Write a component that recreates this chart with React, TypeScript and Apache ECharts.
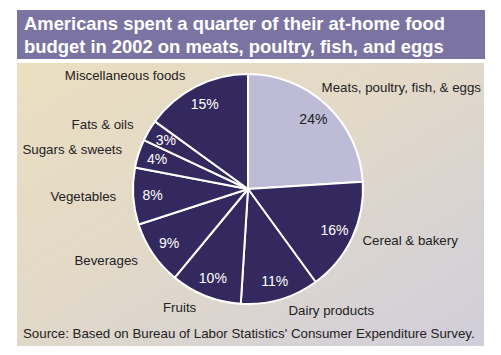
import React, { useEffect, useRef } from "react";
import * as echarts from "echarts";

const categories = [
  "Meats, poultry, fish, & eggs",
  "Cereal & bakery",
  "Dairy products",
  "Fruits",
  "Beverages",
  "Vegetables",
  "Sugars & sweets",
  "Fats & oils",
  "Miscellaneous foods",
];
const shares = [24, 16, 11, 10, 9, 8, 4, 3, 15];
const titleLines = [
  "Americans spent a quarter of their at-home food",
  "budget in 2002 on meats, poultry, fish, and eggs",
];
const sourceText =
  "Source: Based on Bureau of Labor Statistics' Consumer Expenditure Survey.";

const DARK = "#34295f";
const LIGHT = "#bdbbd6";
const FONT = "'Liberation Sans', Arial, Helvetica, sans-serif";

export default function App() {
  const ref = useRef<HTMLDivElement>(null);
  useEffect(() => {
    document.body.style.margin = "0";
    const chart = echarts.init(ref.current!, null, { renderer: "svg" });
    const center = [248, 189];
    const R = 115;
    const baseData = categories.map((name, i) => ({ name, value: shares[i] }));
    const lineLengths = [24, 6, 12, 12, 12, 12, 12, 12, 12];
    chart.setOption({
      animation: false,
      backgroundColor: "#ffffff",
      graphic: [
        {
          type: "rect",
          shape: { x: 17, y: 10, width: 468, height: 49 },
          style: { fill: "#7b74a3" },
          silent: true,
          z: 0,
        },
        {
          type: "rect",
          shape: { x: 17, y: 63, width: 467, height: 283 },
          style: {
            fill: new echarts.graphic.LinearGradient(0, 0, 1, 1, [
              { offset: 0, color: "#ebdfc1" },
              { offset: 0.45, color: "#e2d9c8" },
              { offset: 1, color: "#d0cedb" },
            ]),
          },
          silent: true,
          z: 0,
        },
        {
          type: "text",
          x: 24,
          y: 12,
          style: {
            text: titleLines.join("\n"),
            fill: "#ffffff",
            font: `bold 18.4px ${FONT}`,
            lineHeight: 23,
          },
          z: 1,
        },
        {
          type: "text",
          x: 23,
          y: 327,
          style: {
            text: sourceText,
            fill: "#222222",
            font: `13.3px ${FONT}`,
          },
          z: 1,
        },
      ],
      series: [
        {
          type: "pie",
          center,
          radius: [0, R],
          startAngle: 90,
          clockwise: true,
          silent: true,
          label: { show: false },
          labelLine: { show: false },
          itemStyle: { borderColor: "#ffffff", borderWidth: 2 },
          data: baseData.map((d, i) => ({
            ...d,
            itemStyle: { color: i === 0 ? LIGHT : DARK },
          })),
          z: 2,
        },
        {
          type: "pie",
          center,
          radius: [70, R],
          startAngle: 90,
          clockwise: true,
          silent: true,
          itemStyle: { color: "transparent", borderWidth: 0 },
          label: {
            show: true,
            position: "inside",
            formatter: "{c}%",
            fontFamily: FONT,
            fontSize: 14,
            color: "#ffffff",
          },
          labelLine: { show: false },
          data: baseData.map((d, i) => ({
            ...d,
            label: { color: i === 0 ? "#222222" : "#ffffff" },
          })),
          z: 3,
        },
        {
          type: "pie",
          center,
          radius: [0, R],
          startAngle: 90,
          clockwise: true,
          silent: true,
          avoidLabelOverlap: true,
          itemStyle: { color: "transparent", borderWidth: 0 },
          label: {
            show: true,
            position: "outside",
            formatter: "{b}",
            fontFamily: FONT,
            fontSize: 13.3,
            color: "#222222",
            overflow: "none",
          },
          labelLine: { show: false, length: 12, length2: 0 },
          labelLayout: (params: any) => {
            const r = params.labelRect;
            const over = r.x + r.width - 481;
            return over > 0 ? { dx: -over } : {};
          },
          data: baseData.map((d, i) => ({
            ...d,
            labelLine: { length: lineLengths[i], length2: 0, show: false },
          })),
          z: 3,
        },
      ],
    });
    return () => chart.dispose();
  }, []);
  return (
    <div
      ref={ref}
      style={{ position: "absolute", left: 0, top: 0, width: 501, height: 355 }}
    />
  );
}
